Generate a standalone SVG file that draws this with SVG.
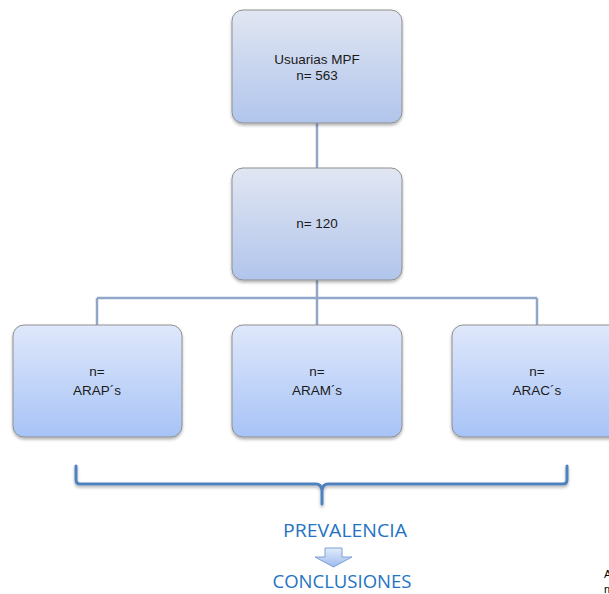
<svg xmlns="http://www.w3.org/2000/svg" width="609" height="594" viewBox="0 0 609 594">
  <defs>
    <linearGradient id="gTop" x1="0" y1="0" x2="0" y2="1">
      <stop offset="0" stop-color="#e1e6f2"/>
      <stop offset="1" stop-color="#b1c5ec"/>
    </linearGradient>
    <linearGradient id="gBox" x1="0" y1="0" x2="0" y2="1">
      <stop offset="0" stop-color="#dfe8fb"/>
      <stop offset="1" stop-color="#a7c3f6"/>
    </linearGradient>
    <linearGradient id="gArrow" x1="0" y1="0" x2="0" y2="1">
      <stop offset="0" stop-color="#e3ecfb"/>
      <stop offset="1" stop-color="#9dbbee"/>
    </linearGradient>
    <filter id="shadow" x="-10%" y="-10%" width="120%" height="130%">
      <feDropShadow dx="0" dy="2" stdDeviation="1.5" flood-color="#000" flood-opacity="0.3"/>
    </filter>
    <style>
      .box { stroke: #8f8f8f; stroke-width: 1; filter: url(#shadow); }
      .lbl { font-family: "Liberation Sans", Arial, sans-serif; font-size: 13.5px; fill: #1a1a1a; text-anchor: middle; }
      .conn { fill: none; stroke: #91a6c9; stroke-width: 2.5; }
      .brace { fill: none; stroke: #4f81bd; stroke-width: 3; stroke-linejoin: round; stroke-linecap: round; }
      .big { font-family: "Open Sans", "Liberation Sans", sans-serif; font-size: 18.5px; fill: #2473c2; text-anchor: middle; }
      .edge { font-family: "Liberation Sans", Arial, sans-serif; font-size: 11px; fill: #000; }
    </style>
  </defs>

  <!-- connectors -->
  <g id="connectors">
    <path class="conn" d="M317 123 V168"/>
    <path class="conn" d="M317 280 V298 M97 298 H537 M97 298 V325 M317 298 V325 M537 298 V325"/>
  </g>

  <g id="node-usuarias">
    <rect class="box" x="232" y="10" width="170" height="113" rx="11" fill="url(#gTop)"/>
    <text class="lbl" x="317" y="64">Usuarias MPF</text>
    <text class="lbl" x="317" y="80">n= 563</text>
  </g>

  <g id="node-n120">
    <rect class="box" x="232" y="168" width="170" height="112" rx="11" fill="url(#gTop)"/>
    <text class="lbl" x="317" y="228">n= 120</text>
  </g>

  <g id="node-arap">
    <rect class="box" x="13" y="325" width="169" height="112" rx="11" fill="url(#gBox)"/>
    <text class="lbl" x="97" y="376">n=</text>
    <text class="lbl" x="97" y="395">ARAP´s</text>
  </g>

  <g id="node-aram">
    <rect class="box" x="232" y="325" width="170" height="112" rx="11" fill="url(#gBox)"/>
    <text class="lbl" x="317" y="376">n=</text>
    <text class="lbl" x="317" y="395">ARAM´s</text>
  </g>

  <g id="node-arac">
    <rect class="box" x="452" y="325" width="169" height="112" rx="11" fill="url(#gBox)"/>
    <text class="lbl" x="537" y="376">n=</text>
    <text class="lbl" x="537" y="395">ARAC´s</text>
  </g>

  <!-- brace grouping the three categories -->
  <g id="brace">
    <path class="brace" d="M76 466 V480 Q76 484 80 484 H316 Q321 484 322 490 V504 M322 490 Q323 484 328 484 H563 Q567 484 567 480 V466" filter="url(#shadow)"/>
  </g>

  <g id="prevalencia">
    <text class="big" x="345" y="537" textLength="124" lengthAdjust="spacingAndGlyphs">PREVALENCIA</text>
  </g>

  <g id="arrow">
    <path d="M325 548 H342 V557 H352 L333.5 567 L315 557 H325 Z" fill="url(#gArrow)" stroke="#7e9fd6" stroke-width="1"/>
  </g>

  <g id="conclusiones">
    <text class="big" x="342" y="588" textLength="139" lengthAdjust="spacingAndGlyphs">CONCLUSIONES</text>
  </g>

  <!-- text running off the right edge -->
  <text class="edge" x="604" y="578">A</text>
  <text class="edge" x="604" y="593">n</text>
</svg>
